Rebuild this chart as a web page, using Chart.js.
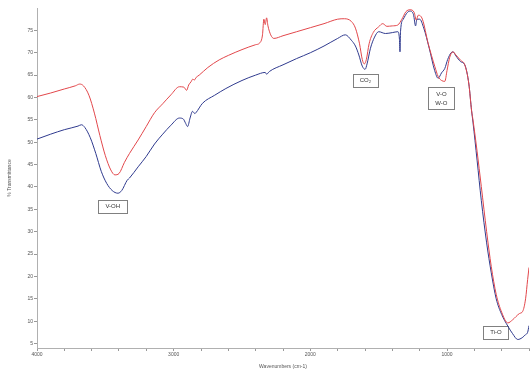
<!DOCTYPE html>
<html>
<head>
<meta charset="utf-8">
<script src="https://cdn.jsdelivr.net/npm/chart.js@4/dist/chart.umd.min.js"></script>
<style>
html,body{margin:0;padding:0;background:#fff;}
#wrap{width:530px;height:372px;position:relative;}
</style>
</head>
<body>
<div id="wrap"><canvas id="c" width="530" height="372"></canvas></div>
<script>
// ---- data (wavenumber cm-1, % transmittance) ----
const redWavenumbers = [4000,3900,3800,3720,3687,3660,3620,3580,3540,3500,3460,3430,3400,3360,3323,3260,3201,3140,3080,3020,2958,2925,2905,2890,2873,2860,2849,2835,2813,2750,2667,2600,2500,2400,2370,2350,2340,2330,2320,2310,2290,2267,2200,2100,2000,1900,1800,1750,1700,1670,1640,1620,1605,1590,1570,1540,1500,1470,1440,1400,1360,1330,1300,1270,1240,1225,1210,1180,1138,1089,1065,1040,1016,1000,980,956,935,900,870,840,820,810,780,749,710,676,640,600,555,520,470,446,425,410,400];
const redValues      = [60.2,61.0,61.9,62.6,63.0,62.6,60.5,56.5,51.5,47.0,43.8,42.7,43.0,45.5,47.5,50.5,53.5,56.6,58.6,60.6,62.4,62.3,61.6,62.8,63.5,64.1,63.9,64.5,65.0,66.7,68.4,69.4,70.7,71.8,72.2,74.0,77.5,76.3,77.8,76.0,74.0,73.2,73.8,74.7,75.6,76.5,77.5,77.6,77.0,75.5,72.0,68.5,67.5,68.5,72.0,74.5,75.8,76.5,75.9,76.0,76.2,77.5,79.2,79.6,79.0,77.3,78.4,77.5,72.1,66.9,64.7,63.8,63.6,66.0,69.0,70.2,69.5,68.3,67.3,63.0,57.0,55.0,48.0,40.1,30.0,22.2,16.0,12.0,9.6,10.3,11.7,12.2,15.0,19.3,22.0];
const blueWavenumbers = [4000,3900,3800,3700,3675,3650,3610,3570,3530,3490,3450,3408,3380,3340,3323,3260,3201,3140,3080,3020,2958,2930,2912,2898,2880,2862,2845,2837,2789,2700,2618,2500,2400,2330,2320,2300,2200,2100,2000,1900,1800,1744,1700,1670,1645,1620,1599,1585,1560,1530,1500,1450,1400,1360,1348,1344,1340,1320,1290,1270,1245,1230,1220,1200,1170,1130,1090,1065,1040,1016,995,970,956,935,900,870,840,820,810,780,749,710,676,640,600,555,520,482,450,425,410,400];
const blueValues      = [50.7,51.8,52.8,53.6,53.9,53.3,51.0,47.5,43.5,40.8,39.2,38.6,39.2,41.5,42.0,44.5,46.8,49.6,51.8,53.8,55.4,55.2,54.2,53.5,55.4,56.9,56.4,56.6,58.7,60.5,62.0,63.8,65.0,65.6,65.2,65.8,67.3,68.7,70.0,71.5,73.2,74.0,72.8,71.5,69.5,67.0,66.3,67.5,71.0,73.5,74.7,74.3,74.5,74.7,73.0,70.2,74.8,77.5,79.0,79.3,78.5,76.0,77.5,77.5,75.5,71.0,66.0,64.3,65.5,66.5,68.5,70.0,70.2,69.3,68.0,67.3,63.0,57.0,54.5,46.0,37.0,27.5,20.8,15.0,11.5,8.9,7.2,5.9,6.3,7.0,7.5,9.0];
const xTickLabels = [4000,3000,2000,1000];
const yTickValues = [5,10,15,20,25,30,35,40,45,50,55,60,65,70,75];
const annotationTexts = [["V-OH"],["CO\u2082"],["V-O","W-O"],["Ti-O"]];
const annotationX = [3446,1597,1041,642];
const annotationY = [35.6,63.75,59.8,7.45];

const toPts = (xs, ys) => xs.map((x, i) => ({x: x, y: ys[i]}));

const labelBoxes = {
  id: 'labelBoxes',
  beforeDatasetsDraw(chart) {
    const ctx = chart.ctx, xs = chart.scales.x, ys = chart.scales.y;
    ctx.save();
    ctx.font = '6px "Liberation Sans", Arial, sans-serif';
    ctx.textAlign = 'center';
    ctx.textBaseline = 'middle';
    annotationTexts.forEach((lines, i) => {
      const cx = xs.getPixelForValue(annotationX[i]);
      const cy = ys.getPixelForValue(annotationY[i]);
      const lh = 9;
      let w = 0;
      lines.forEach(l => { w = Math.max(w, ctx.measureText(l).width); });
      const bw = w + 14, bh = lines.length * lh + 4;
      ctx.fillStyle = '#fff';
      ctx.fillRect(cx - bw/2, cy - bh/2, bw, bh);
      ctx.strokeStyle = '#808080';
      ctx.lineWidth = 1;
      ctx.strokeRect(Math.round(cx - bw/2) + 0.5, Math.round(cy - bh/2) + 0.5, Math.round(bw), Math.round(bh));
      ctx.fillStyle = '#333';
      lines.forEach((l, j) => {
        ctx.fillText(l, cx, cy - bh/2 + 2 + lh/2 + j*lh);
      });
    });
    ctx.restore();
  }
};

new Chart(document.getElementById('c'), {
  type: 'line',
  data: {
    datasets: [
      {label: 'red', data: toPts(redWavenumbers, redValues), borderColor: '#e2474b', borderWidth: 1, pointRadius: 0, cubicInterpolationMode: 'monotone', fill: false},
      {label: 'blue', data: toPts(blueWavenumbers, blueValues), borderColor: '#2f3a8e', borderWidth: 1, pointRadius: 0, cubicInterpolationMode: 'monotone', fill: false}
    ]
  },
  options: {
    responsive: false,
    animation: false,
    events: [],
    layout: {padding: {top: 8, right: 0, bottom: 0, left: 0}},
    plugins: {legend: {display: false}, tooltip: {enabled: false}},
    scales: {
      x: {
        type: 'linear', reverse: true, min: 400, max: 4000,
        afterFit: s => { s.height = 24; },
        border: {display: true, color: '#b0b0b0', dash: [1, 2]},
        grid: {drawOnChartArea: false, drawTicks: true, tickLength: 3, color: '#999'},
        ticks: {
          stepSize: 200, autoSkip: false, maxRotation: 0, padding: 1,
          font: {size: 5, family: '"Liberation Sans", Arial, sans-serif'}, color: '#555',
          callback: v => xTickLabels.includes(v) ? String(v) : ''
        },
        title: {display: true, text: 'Wavenumbers (cm-1)', font: {size: 5, family: '"Liberation Sans", Arial, sans-serif'}, color: '#555', padding: {top: 0, bottom: 2}}
      },
      y: {
        min: 4, max: 80,
        afterFit: s => { s.width = 37; },
        afterBuildTicks: s => { s.ticks = yTickValues.map(v => ({value: v})); },
        border: {display: true, color: '#b0b0b0', dash: [1, 2]},
        grid: {drawOnChartArea: false, drawTicks: true, tickLength: 3, color: '#999'},
        ticks: {
          padding: 1,
          font: {size: 5, family: '"Liberation Sans", Arial, sans-serif'}, color: '#555'
        },
        title: {display: true, text: '% Transmittance', font: {size: 5, family: '"Liberation Sans", Arial, sans-serif'}, color: '#555', padding: {top: 7, bottom: 0}}
      }
    }
  },
  plugins: [labelBoxes]
});
</script>
</body>
</html>
